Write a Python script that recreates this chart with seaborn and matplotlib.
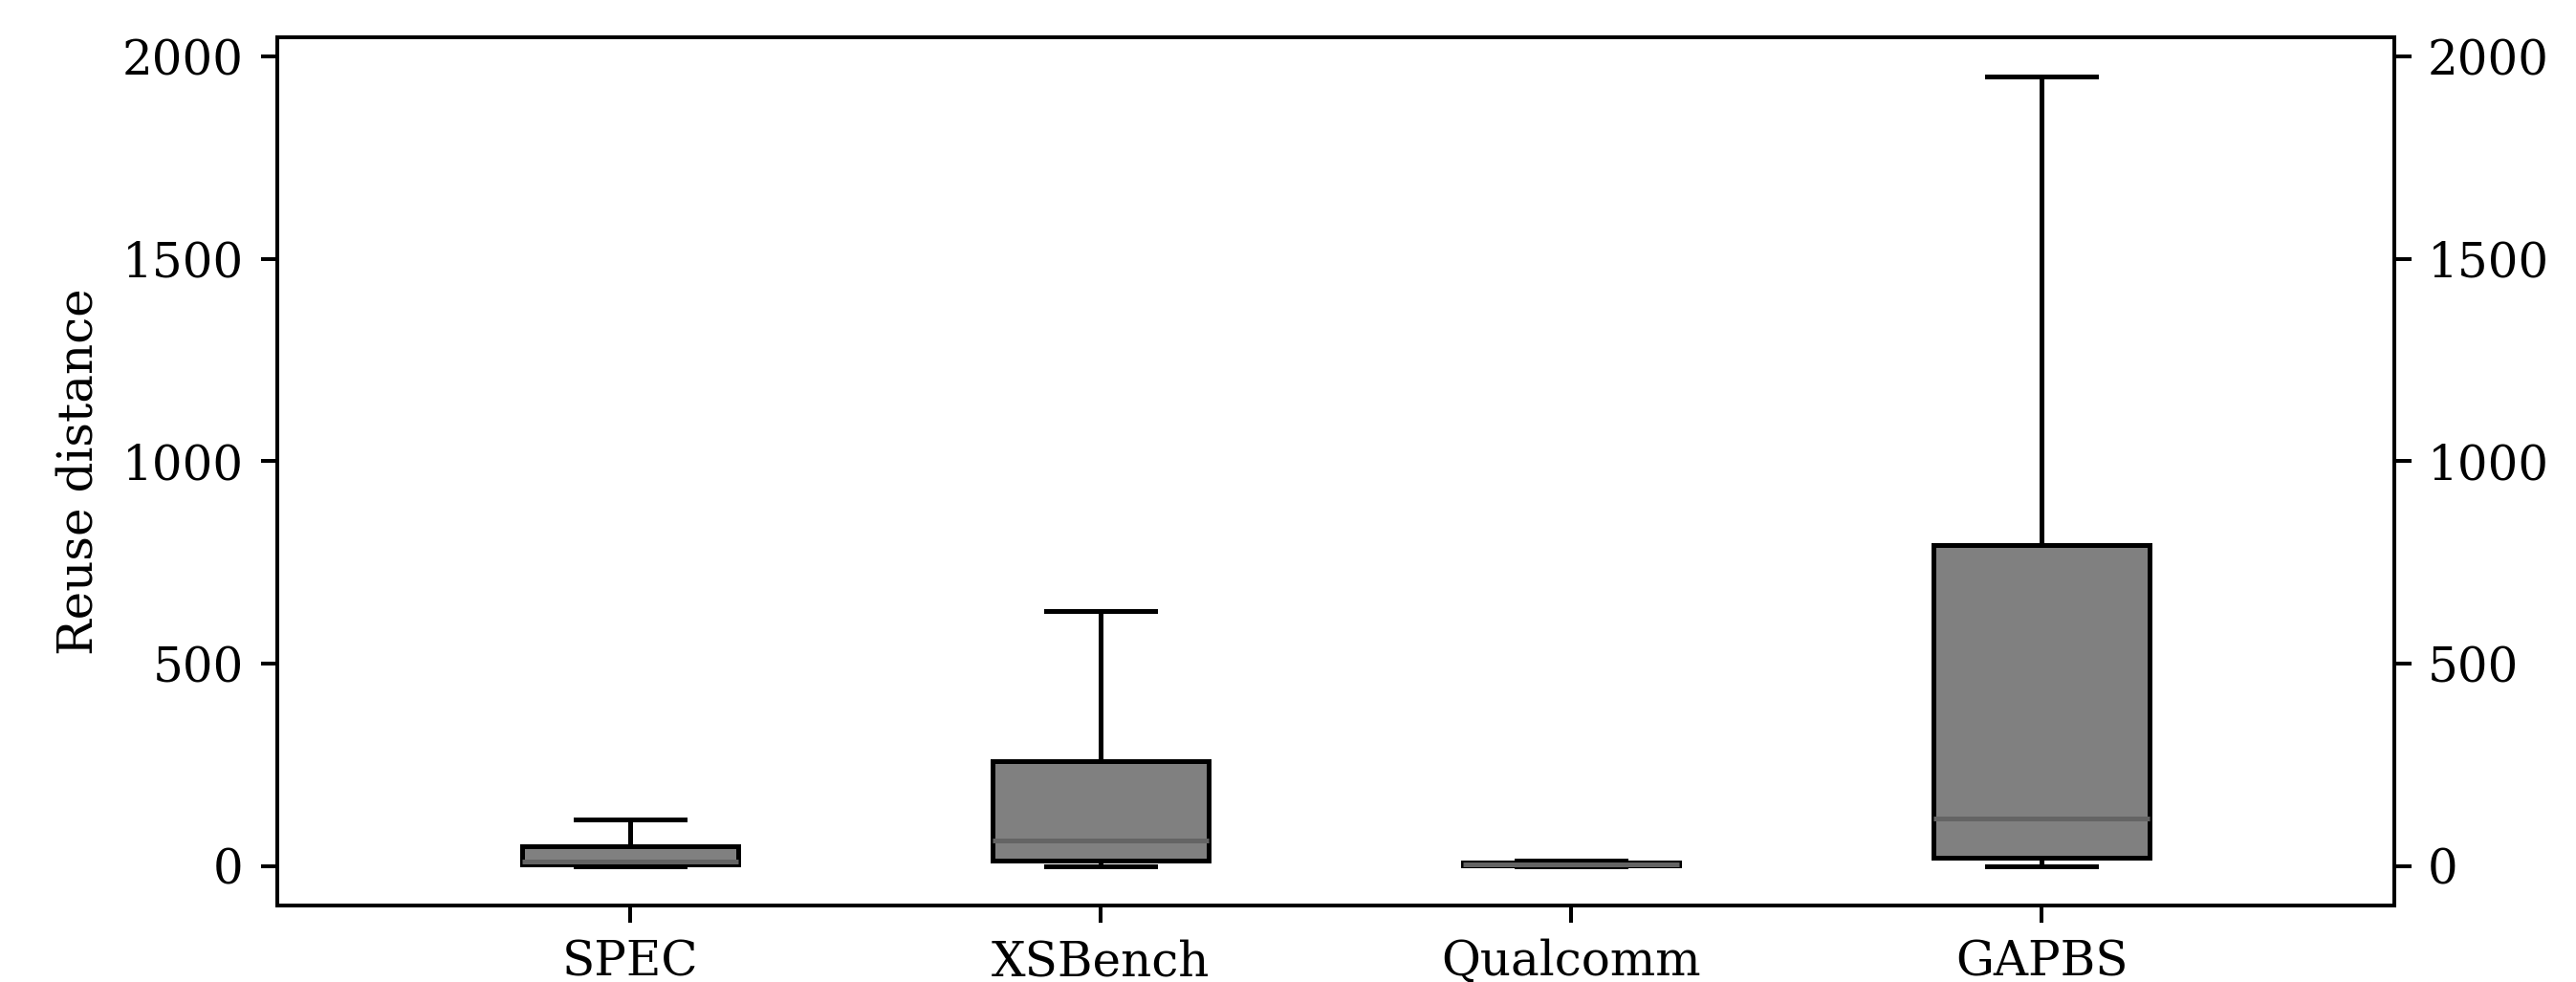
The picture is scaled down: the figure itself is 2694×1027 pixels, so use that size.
import numpy as np
import pandas as pd
import matplotlib
matplotlib.use("Agg")
import matplotlib.pyplot as plt
from matplotlib.ticker import MultipleLocator
import seaborn as sns

# Data (five-number summaries)
categories = ["SPEC", "XSBench", "Qualcomm", "GAPBS"]
mins = [0, 0, 0, 0]
q1s = [3, 14, 1, 20]
medians = [12, 62, 4, 118]
q3s = [50, 260, 9, 793]
maxs = [116, 630, 14, 1950]

rows = []
for c, a, b, m, d, e in zip(categories, mins, q1s, medians, q3s, maxs):
    for v in (a, b, m, d, e):
        rows.append({"suite": c, "reuse": v})
df = pd.DataFrame(rows)

plt.rcParams["font.family"] = ["DejaVu Serif"]
plt.rcParams["font.size"] = 10

DPI = 360
fig = plt.figure(figsize=(2694 / DPI, 1027 / DPI), dpi=DPI)
ax = fig.add_axes([290 / 2694, 1 - 947 / 1027, (2504 - 290) / 2694, (947 - 39) / 1027])

sns.boxplot(
    data=df, x="suite", y="reuse", order=categories, ax=ax,
    color="#808080", saturation=1, width=0.46, linewidth=1.0,
    linecolor="black", whis=(0, 100), showfliers=False,
    medianprops={"color": "#646464", "linewidth": 1.0},
)
ax.set_xlim(-0.75, 3.75)
ax.set_xlabel("")
ax.set_ylabel("Reuse distance")
ax.yaxis.set_major_locator(MultipleLocator(500))

ax2 = ax.twinx()
ax2.set_ylim(ax.get_ylim())
ax2.yaxis.set_major_locator(MultipleLocator(500))

fig.savefig("out.png", dpi=DPI)
